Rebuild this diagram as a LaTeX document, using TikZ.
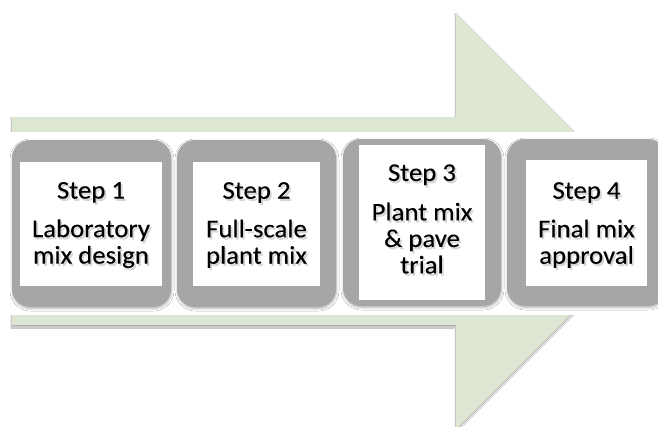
\documentclass[tikz,border=0pt]{standalone}
\usepackage{fontspec}
\newfontfamily\stepfont[FakeStretch=1.05,FakeBold=0.2]{Carlito}
\usetikzlibrary{shadows.blur}
\definecolor{arrowgreen}{RGB}{220,230,210}
\definecolor{boxgrey}{RGB}{166,166,166}
\newcommand\stepline[4]{% name, x, y, text
  \node[textshade, xshift=1.8pt, yshift=-2.2pt] at (#2,#3) {#4};
  \node[steptext] (#1) at (#2,#3) {#4};}
\begin{document}
\begin{tikzpicture}[x=1pt,y=-1pt,
  bigarrow/.style={fill=arrowgreen, draw=none,
    blur shadow={shadow xshift=-0.5pt, shadow yshift=-2pt,
      shadow blur radius=1.5pt, shadow blur steps=6, shadow opacity=35}},
  greybox/.style={rectangle, rounded corners=18pt, fill=boxgrey, draw=none,
    inner sep=0pt,
    blur shadow={shadow xshift=0.5pt, shadow yshift=-1.5pt,
      shadow blur radius=2.5pt, shadow blur steps=6, shadow opacity=30}},
  whitebox/.style={rectangle, fill=white, draw=none, inner sep=0pt},
  steptext/.style={align=center, inner sep=0pt, text=black,
    font=\stepfont\fontsize{25.5}{26.5}\selectfont},
  textshade/.style={steptext, text=black, opacity=0.15}]
\useasboundingbox (0,0) rectangle (658,426);
\clip (0,0) rectangle (658,426);
\fill[white] (0,0) rectangle (658,426);

% the large process arrow in the background
\path[bigarrow] (12,117) -- (456,117) -- (456,13) -- (664,221)
  -- (456,429) -- (456,325) -- (12,325) -- cycle;
% white lane carrying the steps
\fill[white] (0,132) rectangle (658,315);

% grey frames of the four steps
\node[greybox, minimum width=159pt, minimum height=167pt] (g1) at (91.5,223.5) {};
\node[greybox, minimum width=159pt, minimum height=167pt] (g2) at (256.5,223.5) {};
\node[greybox, minimum width=158pt, minimum height=167pt] (g3) at (422,222.5) {};
\node[greybox, minimum width=159pt, minimum height=167pt] (g4) at (586.5,222.5) {};

% white panels
\node[whitebox, minimum width=142pt, minimum height=124pt] (w1) at (91,224) {};
\node[whitebox, minimum width=127pt, minimum height=124pt] (w2) at (256.5,224) {};
\node[whitebox, minimum width=126pt, minimum height=155pt] (w3) at (422,222.5) {};
\node[whitebox, minimum width=121pt, minimum height=126pt] (w4) at (586.5,223) {};

% step texts
\stepline{t1}{91}{225}{Step 1\\[12pt]Laboratory\\mix design}
\stepline{t2}{256.5}{225}{Step 2\\[12pt]Full-scale\\plant mix}
\stepline{t3}{422}{219}{Step 3\\[13pt]Plant mix\\\& pave\\trial}
\stepline{t4}{586.5}{225}{Step 4\\[12pt]Final mix\\approval}
\end{tikzpicture}
\end{document}
